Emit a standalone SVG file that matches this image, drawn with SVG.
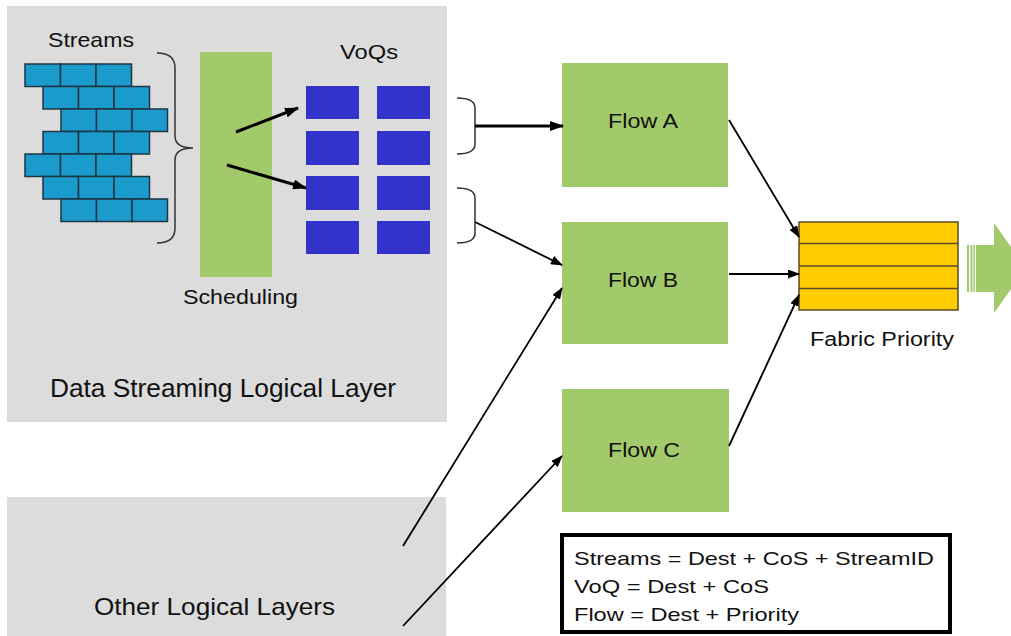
<svg xmlns="http://www.w3.org/2000/svg" width="1011" height="636" viewBox="0 0 1011 636">
<style>
.layer{fill:#dcdcdc}
.green{fill:#a2c96a}
.brick{fill:#1b9bcb;stroke:#1e3544;stroke-width:1.5}
.voq{fill:#3333cc}
.t{font-family:"Liberation Sans",Arial,sans-serif;fill:#111}
.brace{fill:none;stroke:#333;stroke-width:1.5}
.thick{stroke:#000;stroke-width:3;fill:none}
.thin{stroke:#000;stroke-width:1.8;fill:none}
.fab{fill:#ffcc00;stroke:#5a4a28;stroke-width:1.5}
</style>
<defs>
<marker id="ah" markerUnits="userSpaceOnUse" markerWidth="14" markerHeight="10" refX="13" refY="5" orient="auto">
<path d="M0,0 L14,5 L0,10 z" fill="#000"/>
</marker>
<marker id="as" markerUnits="userSpaceOnUse" markerWidth="12" markerHeight="9" refX="11" refY="4.5" orient="auto">
<path d="M0,0 L12,4.5 L0,9 z" fill="#000"/>
</marker>
</defs>
<rect width="1011" height="636" fill="#ffffff"/>

<g id="data-layer">
<rect class="layer" x="7" y="6" width="440" height="416"/>
<text class="t" x="50" y="397" font-size="25" textLength="346" lengthAdjust="spacingAndGlyphs">Data Streaming Logical Layer</text>
</g>

<g id="other-layers">
<rect class="layer" x="7" y="497" width="439" height="139"/>
<text class="t" x="94" y="615" font-size="24" textLength="241" lengthAdjust="spacingAndGlyphs">Other Logical Layers</text>
</g>

<g id="streams">
<text class="t" x="48" y="47" font-size="21" textLength="86" lengthAdjust="spacingAndGlyphs">Streams</text>
<g>
<rect class="brick" x="25" y="64" width="35.5" height="22.5"/><rect class="brick" x="60.5" y="64" width="35.5" height="22.5"/><rect class="brick" x="96" y="64" width="35.5" height="22.5"/>
<rect class="brick" x="43" y="86.5" width="35.5" height="22.5"/><rect class="brick" x="78.5" y="86.5" width="35.5" height="22.5"/><rect class="brick" x="114" y="86.5" width="35.5" height="22.5"/>
<rect class="brick" x="61" y="109" width="35.5" height="22.5"/><rect class="brick" x="96.5" y="109" width="35.5" height="22.5"/><rect class="brick" x="132" y="109" width="35.5" height="22.5"/>
<rect class="brick" x="43" y="131.5" width="35.5" height="22.5"/><rect class="brick" x="78.5" y="131.5" width="35.5" height="22.5"/><rect class="brick" x="114" y="131.5" width="35.5" height="22.5"/>
<rect class="brick" x="25" y="154" width="35.5" height="22.5"/><rect class="brick" x="60.5" y="154" width="35.5" height="22.5"/><rect class="brick" x="96" y="154" width="35.5" height="22.5"/>
<rect class="brick" x="43" y="176.5" width="35.5" height="22.5"/><rect class="brick" x="78.5" y="176.5" width="35.5" height="22.5"/><rect class="brick" x="114" y="176.5" width="35.5" height="22.5"/>
<rect class="brick" x="61" y="199" width="35.5" height="22.5"/><rect class="brick" x="96.5" y="199" width="35.5" height="22.5"/><rect class="brick" x="132" y="199" width="35.5" height="22.5"/>
</g>
<path class="brace" d="M157,53 Q175,53 175,68 L175,136 Q175,148 193,148 Q175,148 175,160 L175,228 Q175,243 157,243"/>
</g>

<g id="scheduling">
<rect class="green" x="200" y="52" width="72" height="225"/>
<text class="t" x="183" y="304" font-size="21" textLength="115" lengthAdjust="spacingAndGlyphs">Scheduling</text>
</g>

<g id="voqs">
<text class="t" x="340" y="59" font-size="21" textLength="58" lengthAdjust="spacingAndGlyphs">VoQs</text>
<rect class="voq" x="306" y="86" width="53" height="33"/><rect class="voq" x="377" y="86" width="53" height="33"/>
<rect class="voq" x="306" y="131" width="53" height="34"/><rect class="voq" x="377" y="131" width="53" height="34"/>
<rect class="voq" x="306" y="176" width="53" height="34"/><rect class="voq" x="377" y="176" width="53" height="34"/>
<rect class="voq" x="306" y="221" width="53" height="33"/><rect class="voq" x="377" y="221" width="53" height="33"/>
<path class="brace" d="M457,98 Q475,98 475,108 L475,144 Q475,154 457,154"/>
<path class="brace" d="M457,188 Q475,188 475,198 L475,233 Q475,243 457,243"/>
</g>

<g id="flow-a">
<rect class="green" x="562" y="63" width="166" height="124"/>
<text class="t" x="608" y="128" font-size="21" textLength="70" lengthAdjust="spacingAndGlyphs">Flow A</text>
</g>
<g id="flow-b">
<rect class="green" x="562" y="222" width="166" height="122"/>
<text class="t" x="608" y="287" font-size="21" textLength="70" lengthAdjust="spacingAndGlyphs">Flow B</text>
</g>
<g id="flow-c">
<rect class="green" x="562" y="389" width="167" height="123"/>
<text class="t" x="608" y="457" font-size="21" textLength="72" lengthAdjust="spacingAndGlyphs">Flow C</text>
</g>

<g id="fabric-priority">
<rect class="fab" x="799" y="222" width="159" height="88"/>
<line x1="799" y1="243.5" x2="958" y2="243.5" stroke="#5a4a28" stroke-width="1.5"/>
<line x1="799" y1="266" x2="958" y2="266" stroke="#5a4a28" stroke-width="1.5"/>
<line x1="799" y1="288.5" x2="958" y2="288.5" stroke="#5a4a28" stroke-width="1.5"/>
<text class="t" x="810" y="346" font-size="20" textLength="144" lengthAdjust="spacingAndGlyphs">Fabric Priority</text>
</g>

<g id="output-arrow" fill="#a2c96a">
<rect x="967" y="245" width="2" height="47"/>
<rect x="970.5" y="245" width="2" height="47"/>
<rect x="973.5" y="245" width="1.5" height="47"/>
<rect x="976" y="245" width="19" height="47"/>
<polygon points="994,223 1026,268 994,313"/>
</g>

<g id="legend">
<rect x="562" y="535" width="388" height="97" fill="#fff" stroke="#000" stroke-width="4"/>
<text class="t" x="574" y="565" font-size="19" textLength="360" lengthAdjust="spacingAndGlyphs">Streams = Dest + CoS + StreamID</text>
<text class="t" x="574" y="593" font-size="19" textLength="195" lengthAdjust="spacingAndGlyphs">VoQ = Dest + CoS</text>
<text class="t" x="574" y="621" font-size="19" textLength="225" lengthAdjust="spacingAndGlyphs">Flow = Dest + Priority</text>
</g>

<g id="connectors">
<line class="thick" x1="236" y1="132" x2="298" y2="108" marker-end="url(#ah)"/>
<line class="thick" x1="227" y1="165" x2="306" y2="188" marker-end="url(#ah)"/>
<line class="thick" x1="475" y1="126" x2="563" y2="126" marker-end="url(#ah)"/>
<line class="thin" x1="475" y1="222" x2="562" y2="265" marker-end="url(#as)"/>
<line class="thin" x1="729" y1="120" x2="799" y2="237" marker-end="url(#as)"/>
<line class="thin" x1="729" y1="274" x2="799" y2="274" marker-end="url(#as)"/>
<line class="thin" x1="729" y1="446" x2="799" y2="295" marker-end="url(#as)"/>
<line class="thin" x1="403" y1="546" x2="562" y2="288" marker-end="url(#as)"/>
<line class="thin" x1="403" y1="626" x2="562" y2="456" marker-end="url(#as)"/>
</g>
</svg>
